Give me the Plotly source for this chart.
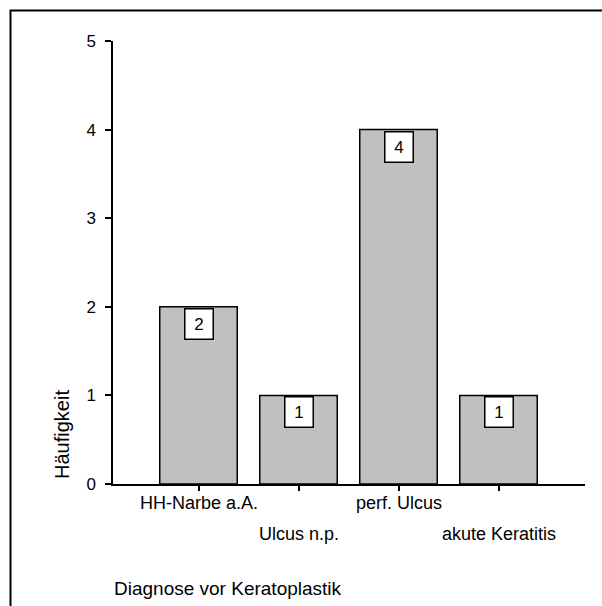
import plotly.graph_objects as go

categories = ["HH-Narbe a.A.", "Ulcus n.p.", "perf. Ulcus", "akute Keratitis"]
counts = [2, 1, 4, 1]
y_ticks = [0, 1, 2, 3, 4, 5]
x_title = "Diagnose vor Keratoplastik"
y_title = "Häufigkeit"

FONT = "Liberation Sans, Arial, sans-serif"
W, H = 602, 606
L, R, T, B = 113, 17, 41, 122
pw, ph = W - L - R, H - T - B

def px_x(x):
    return (x - L) / pw

def px_y(y):
    return (H - B - y) / ph

fig = go.Figure()
fig.add_trace(go.Bar(
    x=categories, y=counts, width=0.775,
    marker=dict(color="#c0c0c0", line=dict(color="black", width=1.5)),
    hoverinfo="skip", showlegend=False,
))

annotations = []
for i, (c, v) in enumerate(zip(categories, counts)):
    # value boxes
    annotations.append(dict(
        x=c, y=v, xref="x", yref="y", text=str(v), showarrow=False,
        xanchor="center", yanchor="top", yshift=-1,
        font=dict(family=FONT, size=17, color="black"),
        bgcolor="white", bordercolor="black", borderwidth=1.5,
        width=27, height=29, borderpad=0,
    ))
    # alternating category labels
    annotations.append(dict(
        x=c, y=0, xref="x", yref="paper", text=c, showarrow=False,
        xanchor="center", yanchor="middle", yshift=-19 if i % 2 == 0 else -50,
        font=dict(family=FONT, size=18, color="black"),
    ))

annotations.append(dict(
    x=px_x(112), y=px_y(588), xref="paper", yref="paper", text=x_title,
    showarrow=False, xanchor="left", yanchor="middle",
    font=dict(family=FONT, size=19, color="black"),
))
annotations.append(dict(
    x=px_x(62), y=px_y(435), xref="paper", yref="paper", text=y_title,
    showarrow=False, xanchor="center", yanchor="middle", textangle=-90,
    font=dict(family=FONT, size=20, color="black"),
))

fig.update_layout(
    width=W, height=H,
    margin=dict(l=L, r=R, t=T, b=B, pad=0),
    paper_bgcolor="white", plot_bgcolor="white",
    font=dict(family=FONT, size=17, color="black"),
    annotations=annotations,
    shapes=[dict(
        type="rect", xref="paper", yref="paper",
        x0=px_x(10.5), x1=px_x(620), y0=px_y(620), y1=px_y(10.5),
        line=dict(color="black", width=2), fillcolor="rgba(0,0,0,0)", layer="above",
    )],
    xaxis=dict(
        type="category", range=[-0.855, 3.865],
        showline=True, linecolor="black", linewidth=1.5,
        ticks="outside", ticklen=5, tickwidth=1.5, tickcolor="black",
        showticklabels=False, showgrid=False, zeroline=False, fixedrange=True,
    ),
    yaxis=dict(
        range=[0, 5], tickvals=y_ticks,
        showline=True, linecolor="black", linewidth=1.5,
        ticks="outside", ticklen=6, tickwidth=1.5, tickcolor="black",
        ticklabelstandoff=6,
        tickfont=dict(family=FONT, size=17, color="black"),
        showgrid=False, zeroline=False, fixedrange=True,
    ),
)

fig.write_html("out.html", config={"displayModeBar": False})
